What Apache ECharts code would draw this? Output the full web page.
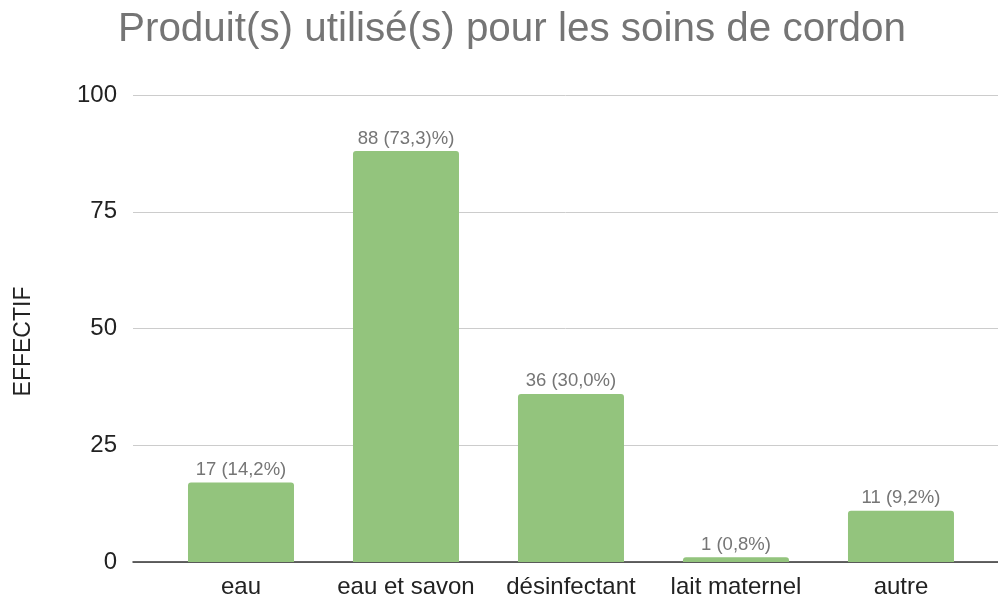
<!DOCTYPE html>
<html>
<head>
<meta charset="utf-8">
<script src="https://cdn.jsdelivr.net/npm/echarts@6/dist/echarts.min.js"></script>
<style>
  html, body { margin: 0; padding: 0; background: #fff; }
  #chart { width: 998px; height: 600px; }
</style>
</head>
<body>
<div id="chart"></div>
<script>
// données
var categories = ['eau', 'eau et savon', 'désinfectant', 'lait maternel', 'autre'];
var effectifs = [17, 88, 36, 1, 11];
var etiquettes = ['17 (14,2%)', '88 (73,3)%)', '36 (30,0%)', '1 (0,8%)', '11 (9,2%)'];
var yTicks = [0, 25, 50, 75, 100];

var chart = echarts.init(document.getElementById('chart'));

var option = {
  animation: false,
  title: {
    text: 'Produit(s) utilisé(s) pour les soins de cordon',
    left: 113,
    top: 5,
    textStyle: {
      fontFamily: 'Liberation Sans',
      fontSize: 40.4,
      fontWeight: 'normal',
      color: '#757575'
    }
  },
  grid: {
    left: 133,
    right: 0,
    top: 95,
    bottom: 38
  },
  // axe des catégories : échelle numérique pour placer les barres comme dans l'original
  xAxis: {
    type: 'value',
    min: -0.6545,
    max: 4.588,
    splitLine: { show: false },
    axisLine: { show: true, onZero: false, lineStyle: { color: '#333', width: 1.5 } },
    axisTick: { show: false },
    axisLabel: {
      customValues: [0, 1, 2, 3, 4],
      formatter: function (v) { return categories[v]; },
      margin: 13,
      fontFamily: 'Liberation Sans',
      fontSize: 24,
      color: '#222'
    }
  },
  yAxis: {
    type: 'value',
    min: yTicks[0],
    max: yTicks[yTicks.length - 1],
    interval: 25,
    name: 'EFFECTIF',
    nameLocation: 'middle',
    nameGap: 98,
    nameTextStyle: {
      fontFamily: 'Liberation Sans',
      fontSize: 23,
      color: '#222',
      padding: [0, 26, 0, 0]
    },
    axisLine: { show: false },
    axisTick: { show: false },
    axisLabel: {
      margin: 16,
      fontFamily: 'Liberation Sans',
      fontSize: 24,
      color: '#222'
    },
    splitLine: { lineStyle: { color: '#cccccc', width: 1 } }
  },
  series: [{
    type: 'bar',
    barWidth: 106,
    data: effectifs.map(function (v, i) { return [i, v]; }),
    itemStyle: { color: '#93c47d', borderRadius: [3, 3, 0, 0] },
    label: {
      show: true,
      position: 'top',
      distance: 3,
      formatter: function (p) { return etiquettes[p.dataIndex]; },
      fontFamily: 'Liberation Sans',
      fontSize: 18.5,
      color: '#757575'
    }
  }]
};

chart.setOption(option);
</script>
</body>
</html>
